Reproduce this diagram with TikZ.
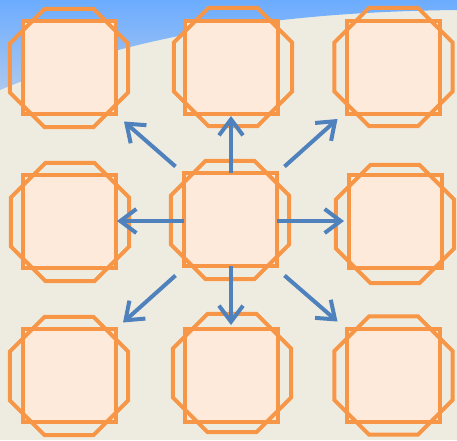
\documentclass[tikz,border=0pt]{standalone}
\usetikzlibrary{shapes.geometric,arrows.meta}
\definecolor{bgtan}{HTML}{EEECE1}
\definecolor{orng}{HTML}{F79646}
\definecolor{peach}{HTML}{FDEADA}
\definecolor{arrblue}{HTML}{4F81BD}
\definecolor{skytop}{RGB}{108,172,255}
\definecolor{skybot}{RGB}{172,200,238}
\begin{document}
\begin{tikzpicture}[x=1pt,y=-1pt,
  sq/.style={rectangle,draw=orng,fill=peach,line width=4pt,minimum size=93pt,inner sep=0pt,outer sep=0pt},
  oct/.style={regular polygon,regular polygon sides=8,draw=orng,line width=4pt,minimum size=128pt,inner sep=0pt,outer sep=0pt},
  arr/.style={draw=arrblue,line width=4pt,-{Straight Barb[length=16pt,width=24pt]}}]
\useasboundingbox (0,0) rectangle (457,440);
\fill[bgtan] (0,0) rectangle (457,440);
\shade[top color=skytop,bottom color=skybot] (0,0) -- (457,0) -- (457,10) .. controls (260,12) and (120,40) .. (0,90) -- cycle;
% squares
\node[sq] (sqTL) at (69.5,67) {};
\node[sq] (sqTM) at (231,67.5) {};
\node[sq] (sqTR) at (393,67.5) {};
\node[sq] (sqML) at (69.5,221) {};
\node[sq] (sqC) at (230,219) {};
\node[sq] (sqMR) at (395.5,221) {};
\node[sq] (sqBL) at (69.5,375) {};
\node[sq] (sqBM) at (231,375.5) {};
\node[sq] (sqBR) at (393,375) {};
% octagons
\node[oct] (ocTL) at (69,68) {};
\node[oct] (ocTM) at (233,67) {};
\node[oct] (ocTR) at (393.5,67) {};
\node[oct] (ocML) at (70,222) {};
\node[oct] (ocC) at (230,220) {};
\node[oct] (ocMR) at (395,224) {};
\node[oct] (ocBL) at (69,376) {};
\node[oct] (ocBM) at (232,373) {};
\node[oct] (ocBR) at (393.5,375.5) {};
% arrows
\draw[arr] ([xshift=1pt]sqC.north) -- ([xshift=1pt,yshift=-2pt]sqC.north |- sqTM.south);
\draw[arr] ([xshift=1pt]sqC.south) -- ([xshift=1pt,yshift=4pt]sqC.south |- sqBM.north);
\draw[arr] ([yshift=-2pt]sqC.west) -- ([xshift=1pt,yshift=-2pt]sqC.west -| sqML.east);
\draw[arr] ([yshift=-2pt]sqC.east) -- ([xshift=-5pt,yshift=-2pt]sqC.east -| sqMR.west);
\draw[arr] ([shift={(-8,-6)}]sqC.north west) -- ([shift={(8,8)}]sqTL.south east);
\draw[arr] ([shift={(8,-6)}]sqC.north east) -- ([shift={(-9,5)}]sqTR.south west);
\draw[arr] ([shift={(-8,10)}]sqC.south west) -- ([shift={(7,-6)}]sqBL.north east);
\draw[arr] ([shift={(8,10)}]sqC.south east) -- ([shift={(-9,-7)}]sqBR.north west);
\end{tikzpicture}
\end{document}
